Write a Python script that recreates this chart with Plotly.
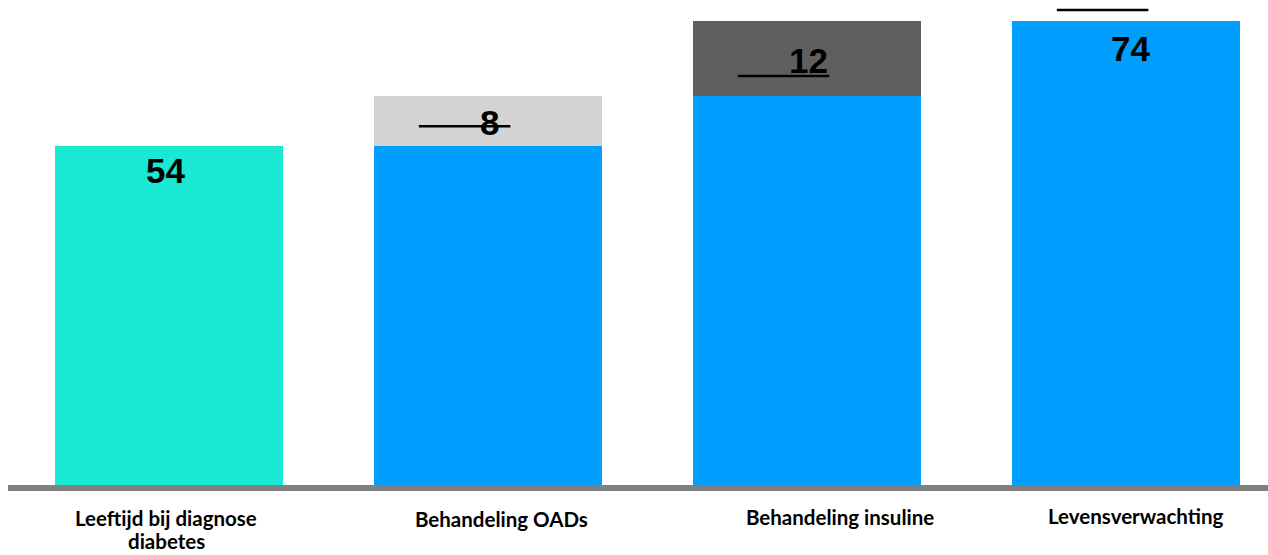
import plotly.graph_objects as go

categories = ["Leeftijd bij diagnose<br>diabetes", "Behandeling OADs", "Behandeling insuline", "Levensverwachting"]
base_values = [0, 54, 62, 0]
bar_values = [54, 8, 12, 74]
bar_colors = ["#19E8D2", "#D3D3D3", "#5F5F5F", "#009FFF"]
base_color = "#009FFF"
value_labels = ["54", "8", "12", "74"]

# styling offsets (pixels)
label_yshift = [-24, -26, -39, -27]
label_xshift = [-4, 1, 1, 4]
line_offset = [None, -30, -55, 11]
cat_xshift = [-3, 13, 33, 10]
cat_yshift = [-33, -34, -32, -31]
cat_line_step = 23

x = list(range(len(categories)))
tops = [b + v for b, v in zip(base_values, bar_values)]

fig = go.Figure()
fig.add_trace(go.Bar(x=x, y=base_values, marker=dict(color=base_color, line=dict(width=0)),
                     width=0.715, hoverinfo="skip", showlegend=False))
fig.add_trace(go.Bar(x=x, y=bar_values, marker=dict(color=bar_colors, line=dict(width=0)),
                     width=0.715, showlegend=False))

for i in x:
    fig.add_annotation(x=i, y=tops[i], text="<b>%s</b>" % value_labels[i], showarrow=False,
                       xshift=label_xshift[i], yshift=label_yshift[i], yanchor="middle",
                       font=dict(family="Liberation Sans, Arial", size=35, color="black"))
    if line_offset[i] is not None:
        fig.add_shape(type="line", xref="x", yref="y", x0=i - 0.217, x1=i + 0.07,
                      ysizemode="pixel", yanchor=tops[i], y0=line_offset[i], y1=line_offset[i],
                      line=dict(color="black", width=2.5))
    for k, part in enumerate(categories[i].split("<br>")):
        fig.add_annotation(x=i, y=0, text="<b>%s</b>" % part, showarrow=False,
                           xshift=cat_xshift[i], yshift=cat_yshift[i] - k * cat_line_step,
                           yanchor="middle",
                           font=dict(family="Lato", size=20.5, color="black"))

fig.update_layout(
    barmode="stack",
    width=1268, height=555,
    margin=dict(l=8, r=0, t=0, b=70),
    plot_bgcolor="white", paper_bgcolor="white",
    xaxis=dict(range=[-0.505, 3.445], showticklabels=False, showgrid=False, zeroline=False,
               showline=True, linecolor="#808080", linewidth=6, ticks=""),
    yaxis=dict(range=[0, 77.35], visible=False),
)
fig.write_html("out.html")
